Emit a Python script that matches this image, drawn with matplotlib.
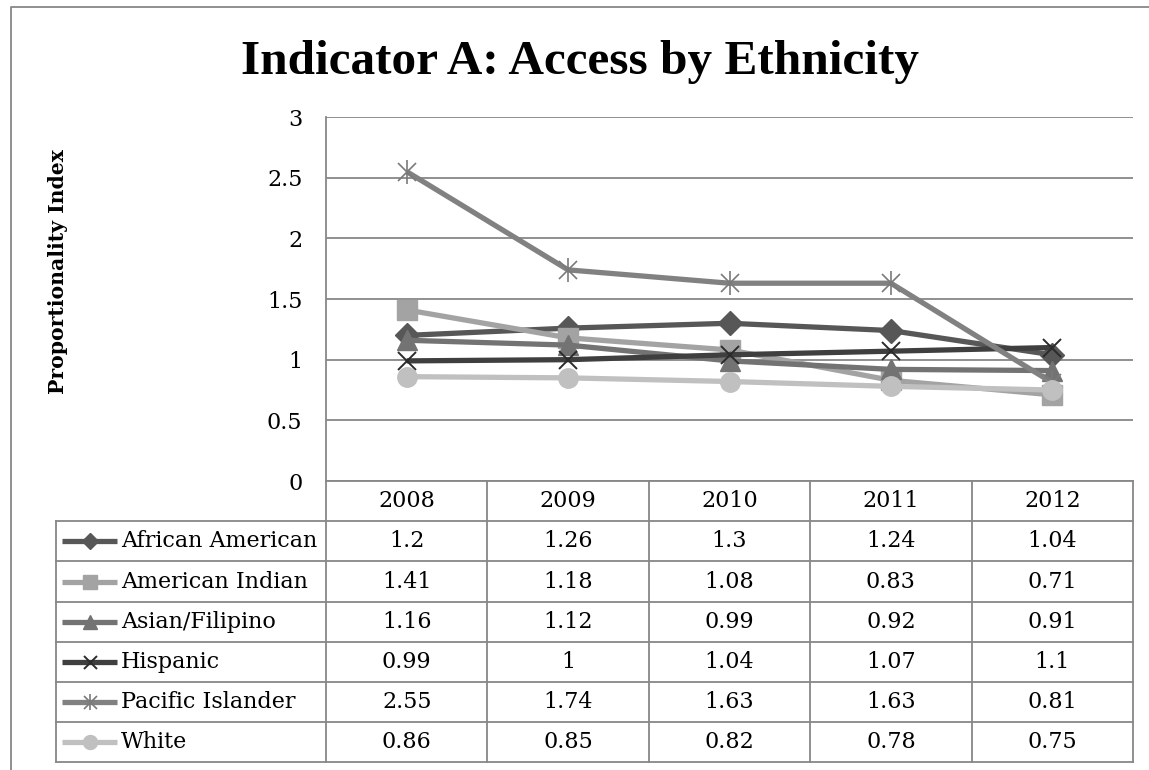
import matplotlib
matplotlib.use("Agg")
import matplotlib.pyplot as plt

# data
years = ["2008", "2009", "2010", "2011", "2012"]
groups = ["African American", "American Indian", "Asian/Filipino",
          "Hispanic", "Pacific Islander", "White"]
african_american = [1.2, 1.26, 1.3, 1.24, 1.04]
american_indian = [1.41, 1.18, 1.08, 0.83, 0.71]
asian_filipino = [1.16, 1.12, 0.99, 0.92, 0.91]
hispanic = [0.99, 1, 1.04, 1.07, 1.1]
pacific_islander = [2.55, 1.74, 1.63, 1.63, 0.81]
white = [0.86, 0.85, 0.82, 0.78, 0.75]
series = [african_american, american_indian, asian_filipino,
          hispanic, pacific_islander, white]
yticks = [0, 0.5, 1, 1.5, 2, 2.5, 3]

# line / marker styles per group
styles = [
    dict(color="#575757", marker="D", ms=12, mfc="#575757", mec="#575757", mew=1),
    dict(color="#a3a3a3", marker="s", ms=14, mfc="#a3a3a3", mec="#a3a3a3", mew=1),
    dict(color="#737373", marker="^", ms=14, mfc="#737373", mec="#737373", mew=1),
    dict(color="#3f3f3f", marker="x", ms=13, mfc="none", mec="#2b2b2b", mew=1.4),
    dict(color="#818181", marker="x", ms=13, mfc="none", mec="#7a7a7a", mew=1.2, star=True),
    dict(color="#c0c0c0", marker="o", ms=14, mfc="#c0c0c0", mec="#c0c0c0", mew=1),
]

W, H = 1149, 770
FONT = "DejaVu Serif"
FS = 16
GRID = "#878787"

fig = plt.figure(figsize=(W / 100, H / 100), dpi=100)

# plot area in pixel terms
px_l, px_r, px_t, px_b = 326, 1133, 117, 481
ax = fig.add_axes([px_l / W, 1 - px_b / H, (px_r - px_l) / W, (px_b - px_t) / H])


def draw_series(a, xs, ys, st, scale=1.0, lw=3.8, every=None):
    a.plot(xs, ys, color=st["color"], lw=lw, marker=st["marker"],
           ms=st["ms"] * scale, mfc=st["mfc"], mec=st["mec"], mew=st["mew"],
           markevery=every, solid_capstyle="butt", zorder=3)
    if st.get("star"):
        a.plot(xs, ys, ls="none", marker="|", ms=st["ms"] * scale * 1.3,
               mec=st["mec"], mew=st["mew"], markevery=every, zorder=3)


xs = list(range(len(years)))
for vals, st in zip(series, styles):
    draw_series(ax, xs, vals, st)

ax.set_xlim(-0.5, len(years) - 0.5)
ax.set_ylim(0, 3)
ax.set_yticks(yticks)
ax.set_yticklabels([f"{v:g}" for v in yticks], fontfamily=FONT, fontsize=FS)
ax.set_xticks([])
ax.tick_params(axis="y", length=0, pad=17)
ax.grid(axis="y", color=GRID, lw=1.3)
ax.set_axisbelow(True)
for side in ["top", "right", "bottom"]:
    ax.spines[side].set_visible(False)
ax.spines["left"].set_color(GRID)
ax.spines["left"].set_linewidth(1.3)

# overlay in pixel coordinates for frame and data table
ov = fig.add_axes([0, 0, 1, 1], zorder=5)
ov.set_xlim(0, W)
ov.set_ylim(H, 0)
ov.axis("off")
ov.patch.set_alpha(0)

# chart frame
ov.plot([11, 11, W], [H, 7, 7], color=GRID, lw=1.3)

# data table grid
tbl_l = 56
col_w = (px_r - px_l) / len(years)
col_edges = [px_l + i * col_w for i in range(len(years) + 1)]
row_h = 40.2
hdr_b = px_b + row_h
row_edges = [hdr_b + i * row_h for i in range(len(groups) + 1)]
tbl_b = row_edges[-1]

ov.plot([px_l, px_r], [px_b, px_b], color=GRID, lw=1.3)
for y in row_edges:
    ov.plot([tbl_l, px_r], [y, y], color=GRID, lw=1.3)
ov.plot([tbl_l, tbl_l], [hdr_b, tbl_b], color=GRID, lw=1.3)
for x in col_edges:
    ov.plot([x, x], [px_b, tbl_b], color=GRID, lw=1.3)

for i, yr in enumerate(years):
    cx = col_edges[i] + col_w / 2
    ov.text(cx, px_b + row_h / 2, yr, ha="center", va="center",
            fontfamily=FONT, fontsize=FS)

for r, (name, vals, st) in enumerate(zip(groups, series, styles)):
    cy = row_edges[r] + row_h / 2
    # legend key: short line with a single marker in the middle
    draw_series(ov, [62, 89.5, 117], [cy, cy, cy], st, scale=0.72, every=[1])
    ov.text(121, cy, name, ha="left", va="center", fontfamily=FONT, fontsize=FS)
    for i, v in enumerate(vals):
        cx = col_edges[i] + col_w / 2
        ov.text(cx, cy, f"{v:g}", ha="center", va="center",
                fontfamily=FONT, fontsize=FS)

# titles
fig.text(580 / W, 1 - 74 / H, "Indicator A: Access by Ethnicity",
         ha="center", va="baseline", fontfamily="Liberation Serif",
         fontweight="bold", fontsize=35.5)
fig.text(58 / W, 1 - 272 / H, "Proportionality Index", rotation=90,
         ha="center", va="center", fontfamily=FONT, fontweight="bold",
         fontsize=14.7)

fig.savefig("out.png", dpi=100)
